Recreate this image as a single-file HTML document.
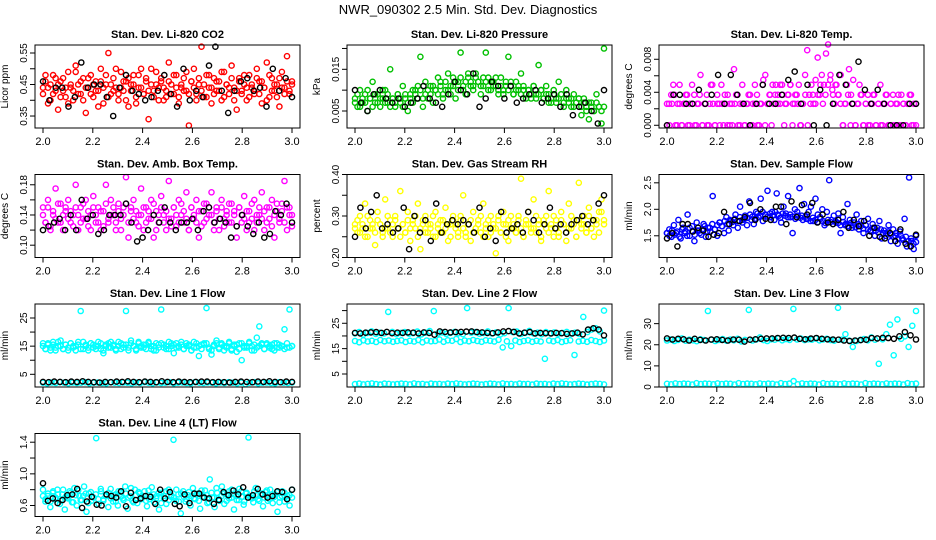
<!DOCTYPE html>
<html><head><meta charset="utf-8">
<style>
html,body{margin:0;padding:0;background:#fff;}
svg{display:block;font-family:"Liberation Sans",Arial,sans-serif;}
</style></head>
<body>
<svg id="chart" width="936" height="540" viewBox="0 0 936 540">
<text x="468" y="14" text-anchor="middle" font-size="13">NWR_090302  2.5 Min. Std. Dev. Diagnostics</text>
</svg>
<script>
const xTicks=[2.0,2.2,2.4,2.6,2.8,3.0];
const co2Red=[0.44,0.48,0.39,0.45,0.42,0.47,0.37,0.46,0.43,0.41,0.49,0.44,0.40,0.51,0.45,0.42,0.47,0.36,0.44,0.48,0.41,0.46,0.43,0.50,0.39,0.45,0.55,0.42,0.47,0.44,0.40,0.49,0.43,0.46,0.38,0.45,0.48,0.41,0.44,0.50,0.42,0.47,0.34,0.45,0.43,0.49,0.40,0.46,0.44,0.41,0.52,0.45,0.42,0.48,0.39,0.44,0.47,0.43,0.32,0.46,0.50,0.42,0.45,0.57,0.41,0.48,0.44,0.39,0.47,0.43,0.46,0.40,0.49,0.45,0.42,0.51,0.44,0.37,0.47,0.43,0.45,0.40,0.48,0.44,0.42,0.50,0.46,0.39,0.44,0.52,0.41,0.47,0.43,0.45,0.38,0.49,0.44,0.54,0.42,0.46];
const co2RedB=[0.42,0.46,0.44,0.40,0.48,0.43,0.45,0.41,0.47,0.44,0.39,0.45,0.43,0.49,0.42,0.46,0.40,0.44,0.47,0.42,0.45,0.43,0.38,0.46,0.44,0.48,0.41,0.45,0.43,0.50,0.42,0.44,0.46,0.40,0.47,0.43,0.45,0.39,0.48,0.44,0.42,0.46,0.43,0.50,0.41,0.45,0.44,0.47,0.40,0.43,0.46,0.42,0.48,0.44,0.41,0.45,0.43,0.49,0.42,0.46,0.44,0.40,0.47,0.43,0.45,0.41,0.48,0.44,0.42,0.46,0.43,0.49,0.41,0.45,0.44,0.47,0.40,0.43,0.46,0.42,0.48,0.44,0.41,0.45,0.43,0.47,0.42,0.46,0.44,0.40,0.48,0.43,0.45,0.41,0.47,0.44,0.42,0.46,0.43,0.45];
const co2Black=[0.46,0.40,0.44,0.44,0.38,0.41,0.52,0.44,0.45,0.45,0.41,0.35,0.44,0.48,0.43,0.42,0.40,0.41,0.43,0.48,0.42,0.38,0.50,0.40,0.43,0.41,0.51,0.57,0.43,0.36,0.43,0.46,0.47,0.43,0.44,0.38,0.50,0.43,0.47,0.41];
const pressGreen=[0.008,0.006,0.010,0.007,0.009,0.005,0.008,0.012,0.007,0.009,0.006,0.008,0.010,0.007,0.015,0.008,0.006,0.009,0.007,0.011,0.008,0.005,0.009,0.007,0.010,0.008,0.018,0.006,0.009,0.008,0.011,0.007,0.010,0.009,0.012,0.008,0.010,0.014,0.009,0.011,0.008,0.012,0.019,0.010,0.009,0.013,0.011,0.010,0.014,0.012,0.009,0.011,0.019,0.013,0.010,0.012,0.011,0.009,0.013,0.010,0.012,0.018,0.011,0.009,0.012,0.010,0.014,0.011,0.009,0.010,0.008,0.011,0.009,0.016,0.010,0.008,0.011,0.009,0.007,0.010,0.008,0.012,0.009,0.007,0.010,0.008,0.006,0.009,0.007,0.008,0.004,0.008,0.006,0.003,0.007,0.005,0.009,0.006,0.002,0.020];
const pressGreenB=[0.007,0.009,0.006,0.008,0.007,0.010,0.008,0.006,0.009,0.007,0.008,0.010,0.007,0.009,0.006,0.008,0.007,0.009,0.008,0.006,0.009,0.007,0.008,0.010,0.009,0.011,0.010,0.008,0.012,0.010,0.009,0.011,0.010,0.013,0.011,0.009,0.012,0.010,0.011,0.013,0.012,0.010,0.013,0.011,0.012,0.014,0.012,0.011,0.013,0.012,0.011,0.013,0.012,0.010,0.012,0.011,0.013,0.010,0.011,0.009,0.011,0.010,0.012,0.009,0.010,0.011,0.009,0.010,0.008,0.010,0.009,0.011,0.008,0.009,0.010,0.008,0.009,0.007,0.008,0.009,0.007,0.008,0.009,0.006,0.008,0.007,0.008,0.006,0.007,0.008,0.006,0.007,0.005,0.007,0.006,0.005,0.007,0.006,0.005,0.006];
const pressBlack=[0.010,0.007,0.005,0.009,0.010,0.008,0.007,0.008,0.006,0.007,0.008,0.011,0.008,0.007,0.006,0.009,0.012,0.010,0.009,0.014,0.006,0.008,0.012,0.011,0.008,0.011,0.007,0.008,0.009,0.010,0.007,0.008,0.009,0.006,0.009,0.004,0.006,0.007,0.005,0.002,0.010];
const tempMag=[0,0.0026,0.0037,0.0049,0,0.0026,0.0049,0,0.0026,0.0037,0,0.0026,0.0049,0.0037,0,0.0026,0.0061,0,0.0026,0.0037,0,0.0049,0.0026,0,0.0037,0.0026,0.0049,0,0.0026,0.0037,0,0.0026,0.0068,0.0037,0,0.0026,0.0049,0,0.0026,0.0037,0,0.0026,0.0049,0.0037,0,0.0026,0.0055,0.0061,0.0026,0.0037,0,0.0026,0.0049,0.0037,0.0026,0.0049,0,0.0026,0.0037,0.0049,0,0.0026,0.0037,0.0049,0,0.0026,0.0061,0.0091,0.0037,0.0049,0.0026,0.0055,0.0082,0.0037,0.0061,0.0049,0.0087,0.0098,0.0055,0.0043,0.0026,0.0049,0.0037,0.0061,0,0.0026,0.0049,0.0068,0.0037,0.0055,0,0.0026,0.0049,0.0037,0,0.0026,0.0037,0,0.0026,0.0037,0,0.0026,0.0049,0,0.0026,0.0037,0,0.0026,0.0037,0,0.0026,0,0.0037,0.0026,0,0.0026,0.0037,0,0.0026,0];
const tempMagB=[0.0026,0,0.0026,0.0037,0,0.0026,0,0.0026,0.0037,0,0.0026,0,0.0026,0.0037,0,0.0026,0,0.0026,0.0049,0,0.0026,0,0.0026,0.0037,0,0.0026,0,0.0026,0.0037,0,0.0026,0,0.0026,0.0037,0,0.0026,0,0.0026,0.0049,0,0.0026,0.0037,0.0049,0.0037,0.0026,0.0049,0.0037,0.0026,0.0037,0.0049,0.0026,0.0037,0.0026,0,0.0026,0.0037,0,0.0026,0.0037,0.0026,0.0037,0.0049,0.0026,0.0037,0.0049,0.0061,0.0037,0.0049,0.0037,0.0026,0,0.0026,0.0037,0,0.0026,0,0.0026,0.0037,0,0.0026,0,0.0026,0.0037,0,0.0026,0,0.0026,0.0037,0,0.0026,0,0.0026,0.0037,0,0.0026,0,0.0026,0.0037,0,0.0026];
const tempBlack=[0,0.0037,0.0037,0.0026,0.0026,0.0043,0.0026,0.0037,0.0061,0.0026,0.0061,0.0037,0.0026,0,0.0026,0.0049,0.0026,0.0026,0.0037,0.0055,0.0065,0.0026,0.0049,0,0.0043,0,0.0026,0.0061,0.0049,0.0026,0.0077,0.0043,0.0026,0.0043,0.0026,0,0,0,0.0026,0.0026];
const ambMag=[0.15,0.13,0.16,0.12,0.14,0.175,0.13,0.155,0.12,0.145,0.16,0.13,0.14,0.18,0.12,0.15,0.135,0.16,0.125,0.14,0.165,0.13,0.15,0.12,0.145,0.18,0.13,0.16,0.14,0.12,0.155,0.135,0.15,0.19,0.11,0.145,0.16,0.13,0.14,0.175,0.12,0.15,0.135,0.16,0.11,0.145,0.13,0.165,0.14,0.12,0.185,0.135,0.15,0.125,0.16,0.14,0.13,0.17,0.12,0.15,0.135,0.16,0.11,0.145,0.13,0.155,0.14,0.17,0.12,0.15,0.135,0.16,0.125,0.145,0.13,0.155,0.14,0.11,0.15,0.13,0.165,0.12,0.145,0.135,0.16,0.13,0.14,0.17,0.12,0.15,0.135,0.16,0.11,0.145,0.13,0.155,0.185,0.12,0.15,0.14];
const ambMagB=[0.14,0.13,0.15,0.125,0.145,0.135,0.155,0.13,0.14,0.15,0.135,0.145,0.125,0.15,0.14,0.13,0.155,0.135,0.145,0.12,0.15,0.14,0.13,0.145,0.125,0.155,0.135,0.14,0.15,0.13,0.145,0.12,0.14,0.155,0.13,0.15,0.135,0.145,0.125,0.14,0.15,0.13,0.145,0.135,0.155,0.12,0.14,0.15,0.13,0.145,0.135,0.125,0.15,0.14,0.13,0.155,0.145,0.135,0.12,0.15,0.14,0.13,0.145,0.125,0.155,0.135,0.15,0.14,0.13,0.145,0.12,0.15,0.135,0.14,0.155,0.13,0.145,0.125,0.15,0.14,0.135,0.145,0.13,0.155,0.12,0.14,0.15,0.135,0.145,0.13,0.15,0.125,0.14,0.155,0.135,0.145,0.13,0.15,0.14,0.125];
const ambBlack=[0.12,0.125,0.13,0.135,0.12,0.14,0.12,0.16,0.135,0.14,0.115,0.12,0.14,0.14,0.14,0.155,0.13,0.105,0.11,0.12,0.14,0.13,0.15,0.13,0.12,0.13,0.13,0.135,0.12,0.145,0.15,0.13,0.135,0.13,0.11,0.125,0.14,0.125,0.115,0.13,0.11,0.115,0.145,0.14,0.155,0.13];
const rhYellow=[0.28,0.26,0.30,0.27,0.33,0.25,0.29,0.27,0.23,0.31,0.28,0.26,0.34,0.27,0.29,0.25,0.30,0.27,0.36,0.28,0.26,0.31,0.24,0.29,0.27,0.33,0.22,0.28,0.30,0.26,0.28,0.25,0.31,0.27,0.29,0.26,0.32,0.24,0.28,0.30,0.27,0.25,0.29,0.35,0.26,0.28,0.24,0.31,0.27,0.29,0.26,0.33,0.28,0.25,0.30,0.27,0.21,0.29,0.26,0.31,0.28,0.24,0.30,0.27,0.26,0.29,0.39,0.25,0.28,0.31,0.27,0.34,0.26,0.29,0.24,0.28,0.30,0.36,0.27,0.25,0.29,0.26,0.31,0.28,0.24,0.33,0.27,0.29,0.25,0.38,0.28,0.30,0.26,0.32,0.27,0.25,0.29,0.31,0.34,0.28];
const rhYellowB=[0.27,0.29,0.26,0.28,0.25,0.30,0.27,0.28,0.26,0.29,0.28,0.25,0.27,0.30,0.26,0.28,0.29,0.27,0.25,0.28,0.26,0.29,0.27,0.28,0.30,0.25,0.27,0.29,0.26,0.28,0.27,0.30,0.25,0.28,0.26,0.29,0.27,0.28,0.25,0.29,0.28,0.26,0.30,0.27,0.25,0.28,0.29,0.26,0.27,0.28,0.30,0.25,0.27,0.29,0.26,0.28,0.27,0.30,0.26,0.28,0.25,0.29,0.27,0.28,0.26,0.30,0.27,0.25,0.29,0.28,0.26,0.27,0.30,0.28,0.25,0.29,0.27,0.26,0.28,0.30,0.27,0.25,0.29,0.28,0.26,0.27,0.30,0.28,0.25,0.29,0.27,0.28,0.26,0.30,0.27,0.29,0.28,0.26,0.31,0.29];
const rhBlack=[0.25,0.32,0.27,0.31,0.35,0.27,0.28,0.26,0.27,0.32,0.22,0.30,0.26,0.29,0.24,0.33,0.26,0.28,0.29,0.28,0.29,0.28,0.26,0.32,0.25,0.27,0.24,0.31,0.26,0.27,0.28,0.26,0.31,0.29,0.26,0.28,0.32,0.27,0.28,0.26,0.28,0.29,0.30,0.28,0.29,0.33,0.35];
const sampleBlue=[1.55,1.62,1.48,1.70,1.55,1.80,1.45,1.65,1.58,1.90,1.50,1.68,1.40,1.75,1.60,1.52,1.72,1.48,1.65,1.58,2.25,1.62,1.50,1.75,1.68,1.55,1.85,1.60,1.78,1.70,1.90,1.65,2.05,1.75,1.82,1.70,2.15,1.80,1.72,1.95,1.85,2.20,1.78,1.90,2.35,1.85,1.95,1.80,2.30,1.88,1.75,2.05,1.92,2.25,1.85,1.55,2.00,1.95,2.40,1.88,2.10,1.82,1.95,2.05,1.78,2.20,1.90,1.85,2.00,1.70,1.95,2.55,1.80,1.88,1.75,1.92,1.55,1.85,1.70,2.10,1.80,1.65,1.75,1.90,1.62,1.78,1.55,1.70,1.82,1.60,1.72,1.50,1.65,1.78,1.45,1.60,1.55,1.70,1.40,1.62,1.50,1.35,1.58,1.45,1.82,1.30,2.60,1.40,1.25,1.50];
const sampleBlueB=[1.55,1.50,1.60,1.52,1.58,1.48,1.62,1.55,1.50,1.65,1.58,1.52,1.60,1.55,1.62,1.68,1.58,1.65,1.72,1.62,1.70,1.75,1.68,1.78,1.72,1.80,1.76,1.82,1.78,1.85,1.80,1.88,1.84,1.90,1.86,1.82,1.92,1.88,1.95,1.90,1.86,1.92,1.88,1.95,1.90,1.84,1.92,1.88,1.85,1.90,1.86,1.82,1.88,1.84,1.80,1.86,1.82,1.78,1.84,1.80,1.76,1.82,1.78,1.74,1.80,1.76,1.72,1.78,1.74,1.70,1.76,1.72,1.68,1.74,1.70,1.66,1.72,1.68,1.64,1.70,1.62,1.58,1.65,1.60,1.56,1.62,1.55,1.50,1.58,1.52,1.48,1.55,1.45,1.50,1.42,1.48,1.40,1.45,1.35,1.38];
const sampleBlack=[1.45,1.55,1.30,1.72,1.72,1.58,1.65,1.60,1.48,1.52,1.55,1.95,1.72,1.80,1.78,1.85,2.12,1.80,2.00,1.82,1.80,2.05,2.05,1.72,2.15,1.85,2.08,1.90,2.12,1.75,1.90,1.75,1.72,1.80,1.95,1.65,1.80,1.68,1.78,1.50,1.65,1.48,1.45,1.55,1.40,1.62,1.35,1.30,1.52];
const line1CyanHi=[16,14,15.5,13.5,16.5,14.5,15,17,14,15.5,13.5,16,14.5,15,16.5,27.5,14,15.5,13.5,16,14.5,15,16.5,14,12.5,15.5,16,14.5,15,13.5,16.5,14,15.5,27.5,14.5,17,15,13.5,16,14.5,15.5,14,16.5,15,13.5,16,14.5,28,15.5,14,16.5,15,12.5,16,14.5,15.5,14,16,15,13.5,16.5,14.5,11.5,15.5,16,28.5,14,12,15.5,17,14.5,16,13.5,15,16.5,14,15.5,13,16,10,15,14.5,16.5,15,13.5,18,22,15.5,14,16,14.5,15.5,13.5,16,14.5,15,21,14.5,28,15];
const line1CyanHiB=[15,14,16,14.5,15.5,13.5,16.5,15,14,15.5,14.5,16,15,13.5,15.5,14,16.5,15,14.5,16,15.5,14,15,16,13.5,15,14.5,16.5,15.5,14,15,16,14.5,15.5,13.5,16,15,14,16.5,15,14.5,15.5,16,14,15,13.5,15.5,16,14.5,15,14,16,15.5,14.5,15,16.5,14,15,15.5,13.5,14.5,16,15,14,15.5,16,14.5,13.5,15,16,14,15.5,15,14.5,16,13.5,15,15.5,14,16,14.5,15,16,13.5,15.5,14.5,15,16,14,15.5,15,14,16,14.5,15.5,15,14,16,14.5,15];
const line1CyanLo=[2,1.8,2.1,1.9,2.2,2,1.8,2.1,1.9,2,2.2,1.8,2,2.1,1.9,1.8,2.2,2,1.9,2.1,2,1.8,2.1,1.9,2.2,2,1.8,2.1,1.9,2,2.2,1.8,2,2.1,1.9,1.8,2.2,2,1.9,2.1,2,1.8,2.1,1.9,2.2,2,1.8,2.1,1.5,2,2.2,1.8,2,2.1,1.9,1.8,2.2,2,1.9,2.1];
const line1Black=[2.3,2.2,2.4,2.3,2.2,2.4,2.3,2.5,2.3,2.2,2.1,2.3,2.2,2.4,2.3,2.5,2.3,2.2,2.4,2.3,2.2,2.5,2.3,2.2,2.4,2.3,2.2,2.3,2.4,2.4,2.2,2.3,2.2,2.1,2.3,2.4,2.3,2.2,2.4,2.3,2.5,2.3,2.2,2.4,2.3];
const line2CyanHi=[21,21.5,20.5,21.2,21.8,20.8,21.3,21,29.5,21.6,20.7,21.2,21.5,20.9,21.1,21.7,20.6,21.3,21.9,29.8,21,21.4,20.8,21.2,21.6,21.1,20.7,31,21.3,21.5,20.9,21.2,21.8,21,21.4,20.6,21.1,31,21.5,21.7,20.8,21.2,22,21,21.3,20.7,21.5,21.1,21.4,20.9,21.2,21.6,21,21.3,20.8,27.5,21.5,22.5,23,21.8,30];
const line2CyanMid=[18,17.5,18.3,17.8,18.1,17.6,18.4,17.9,18.2,17.7,18,18.3,17.6,18.1,17.8,18.4,17.5,18.2,17.9,18,18.6,17.7,18.3,18.1,18.8,17.6,18.2,17.9,18.4,18,17.7,18.3,18.1,17.8,18.5,15.5,17.9,16,18.2,17.6,18,18.3,17.7,18.1,17.8,11,18.2,17.9,18.4,17.6,18,18.3,12.5,17.8,18.1,17.7,18.4,18,17.6,18.2];
const line2CyanLo=[1,1.2,0.9,1.1,1.3,1,0.8,1.2,1.1,0.9,1,1.2,1.1,0.9,1.3,1,1.1,0.8,1.2,1,1.1,0.9,1.2,1,1.3,1.1,0.9,1,1.2,1.1,0.8,1,1.2,1.1,0.9,1.3,1,1.1,0.9,1.2,1,1.1,0.8,1.2,1,1.1,0.9,1.2,1,1.3,1.1,0.9,1,1.2,1.1,0.8,1,1.2,1.1,0.9];
const line2Black=[21.2,21,21.3,21.4,21.5,21.2,21.6,21.1,21.3,21.2,21.4,21.3,21,21.4,21.2,20.5,21.8,21.6,21.4,21.5,21.6,21.7,21.8,21.5,21.4,21.2,21.1,21.4,21.8,21.9,21.6,21,21.3,21.5,21,21.2,21.1,21,21.2,21.1,20.8,21,21.3,20.6,22.5,23,22.5,20.2];
const line3CyanHi=[22,22.5,21.8,22.3,23,21.9,22.4,22.1,21.7,22.6,22.2,36,22.4,21.8,22.3,22.7,21.9,22.5,22.1,22.8,21.6,22.3,36.5,22,22.5,23.5,22.2,21.8,22.6,22.4,23,22.1,22.7,22.3,37,22.5,22.9,22.2,22.6,22.4,23,22.1,22.5,22.8,22.2,21.9,37.5,22.4,25,22,19,21.8,22.3,22.7,22.1,23.5,22.4,11,22.6,25,29.5,15,32,22.8,24,19,29,36];
const line3CyanLo=[1.5,1.3,1.7,1.4,1.6,1.5,1.2,1.8,1.4,1.6,1.5,1.3,1.7,1.4,1.6,1.5,1.2,1.8,1.4,1.6,1.5,1.3,1.7,1.4,1.6,1.5,1.2,1.8,1.4,1.6,2.8,1.3,1.7,1.4,1.6,1.5,1.2,1.8,1.4,1.6,1.5,1.3,1.7,1.4,1.6,1.5,1.2,1.8,1.4,1.6,1.5,1.3,1.7,1.4,1.6,1.5,1.2,1.8,1.4,1.6];
const line3Black=[23,22.5,22.8,22.6,22,22.8,22.3,22,22.5,22.6,22.3,22,22.5,22.4,21.5,22.4,22.6,22.8,23,23,23.2,23.3,23.2,23.4,22.8,22.6,22.9,23.2,22.8,22.6,22.5,22.4,22,21.8,22,22.2,22.4,23.2,23,23.3,23.2,22.8,24,26,24.5,22.5];
const line4Cyan=[0.8,0.65,0.72,0.58,0.76,0.68,0.8,0.62,0.74,0.55,0.7,0.78,0.64,0.82,0.6,0.72,0.67,0.84,0.52,0.75,0.66,0.7,1.45,0.62,0.78,0.68,0.73,0.58,0.81,0.65,0.74,0.6,0.77,0.69,0.84,0.56,0.72,0.66,0.8,0.63,0.75,0.7,0.78,0.59,0.68,0.83,0.64,0.72,0.55,0.76,0.69,0.62,0.8,0.71,1.43,0.66,0.74,0.5,0.78,0.65,0.73,0.6,0.82,0.68,0.75,0.56,0.71,0.79,0.63,0.93,0.7,0.58,0.76,0.66,0.84,0.62,0.74,0.69,0.8,0.55,0.72,0.67,0.78,0.61,0.75,1.46,0.7,0.64,0.82,0.68,0.73,0.59,0.77,0.66,0.8,0.63,0.74,0.52,0.7,0.78,0.65,0.72,0.6,0.8];
const line4CyanB=[0.72,0.68,0.75,0.65,0.78,0.70,0.74,0.66,0.80,0.71,0.69,0.76,0.64,0.73,0.79,0.67,0.72,0.75,0.63,0.77,0.70,0.74,0.68,0.81,0.66,0.72,0.76,0.69,0.73,0.65,0.78,0.71,0.67,0.75,0.70,0.82,0.64,0.73,0.77,0.68,0.72,0.66,0.79,0.71,0.74,0.69,0.76,0.63,0.72,0.78,0.67,0.73,0.70,0.80,0.65,0.75,0.71,0.68,0.77,0.72,0.69,0.74,0.66,0.79,0.71,0.73,0.64,0.76,0.70,0.82,0.68,0.72,0.75,0.66,0.78,0.70,0.74,0.67,0.81,0.71,0.65,0.76,0.72,0.69,0.78,0.73,0.66,0.75,0.70,0.79,0.68,0.74,0.71,0.77,0.64,0.72,0.76,0.69,0.73,0.70];
const line4Black=[0.88,0.66,0.69,0.63,0.67,0.73,0.74,0.81,0.57,0.65,0.71,0.61,0.6,0.74,0.72,0.7,0.78,0.59,0.76,0.67,0.69,0.72,0.71,0.62,0.8,0.69,0.77,0.62,0.59,0.74,0.63,0.75,0.75,0.7,0.69,0.62,0.67,0.77,0.73,0.79,0.74,0.83,0.7,0.73,0.81,0.74,0.7,0.72,0.78,0.77,0.68,0.8];

const svg=document.getElementById('chart');
const NS='http://www.w3.org/2000/svg';
function mk(tag,attrs,parent){const e=document.createElementNS(NS,tag);for(const k in attrs)e.setAttribute(k,attrs[k]);(parent||svg).appendChild(e);return e;}

const panels=[
 {key:'co2',title:'Stan. Dev. Li-820 CO2',ylab:'Licor ppm',col:0,row:0,ymin:0.312,ymax:0.5754,ticks:[0.35,0.40,0.45,0.50,0.55],labels:{'0.35':'0.35','0.45':'0.45','0.55':'0.55'},series:[[co2Red,'#ff0000'],[co2RedB,'#ff0000'],[co2Black,'#000']]},
 {key:'pressure',title:'Stan. Dev. Li-820 Pressure',ylab:'kPa',col:1,row:0,ymin:0.00092,ymax:0.02083,ticks:[0.005,0.010,0.015,0.020],labels:{'0.005':'0.005','0.015':'0.015'},series:[[pressGreen,'#00c000'],[pressGreenB,'#00c000'],[pressBlack,'#000']]},
 {key:'temp',title:'Stan. Dev. Li-820 Temp.',ylab:'degrees C',col:2,row:0,ymin:-0.00033,ymax:0.00973,ticks:[0,0.002,0.004,0.006,0.008],labels:{'0':'0.000','0.004':'0.004','0.008':'0.008'},series:[[tempMag,'#ff00ff'],[tempMagB,'#ff00ff'],[tempBlack,'#000']]},
 {key:'ambbox',title:'Stan. Dev. Amb. Box Temp.',ylab:'degrees C',col:0,row:1,ymin:0.0837,ymax:0.1936,ticks:[0.10,0.12,0.14,0.16,0.18],labels:{'0.1':'0.10','0.14':'0.14','0.18':'0.18'},series:[[ambMag,'#ff00ff'],[ambMagB,'#ff00ff'],[ambBlack,'#000']]},
 {key:'rh',title:'Stan. Dev. Gas Stream RH',ylab:'percent',col:1,row:1,ymin:0.2,ymax:0.4,ticks:[0.20,0.25,0.30,0.35,0.40],labels:{'0.2':'0.20','0.3':'0.30','0.4':'0.40'},series:[[rhYellow,'#ffff00'],[rhYellowB,'#ffff00'],[rhBlack,'#000']]},
 {key:'sampleflow',title:'Stan. Dev. Sample Flow',ylab:'ml/min',col:2,row:1,ymin:1.09,ymax:2.657,ticks:[1.5,2.0,2.5],labels:{'1.5':'1.5','2':'2.0','2.5':'2.5'},series:[[sampleBlue,'#0000ff'],[sampleBlueB,'#0000ff'],[sampleBlack,'#000']]},
 {key:'line1',title:'Stan. Dev. Line 1 Flow',ylab:'ml/min',col:0,row:2,ymin:0.49,ymax:29.97,ticks:[5,10,15,20,25],labels:{'5':'5','15':'15','25':'25'},series:[[line1CyanHi,'#00ffff'],[line1CyanHiB,'#00ffff'],[line1CyanLo,'#00ffff'],[line1Black,'#000']]},
 {key:'line2',title:'Stan. Dev. Line 2 Flow',ylab:'ml/min',col:1,row:2,ymin:-0.13,ymax:32.6,ticks:[5,10,15,20,25,30],labels:{'5':'5','15':'15','25':'25'},series:[[line2CyanHi,'#00ffff'],[line2CyanMid,'#00ffff'],[line2CyanLo,'#00ffff'],[line2Black,'#000']]},
 {key:'line3',title:'Stan. Dev. Line 3 Flow',ylab:'ml/min',col:2,row:2,ymin:0,ymax:39.3,ticks:[0,10,20,30],labels:{'0':'0','10':'10','20':'20','30':'30'},series:[[line3CyanHi,'#00ffff'],[line3CyanLo,'#00ffff'],[line3Black,'#000']]},
 {key:'line4',title:'Stan. Dev. Line 4 (LT) Flow',ylab:'ml/min',col:0,row:3,ymin:0.461,ymax:1.51,ticks:[0.6,0.8,1.0,1.2,1.4],labels:{'0.6':'0.6','1':'1.0','1.4':'1.4'},series:[[line4Cyan,'#00ffff'],[line4CyanB,'#00ffff'],[line4Black,'#000']]}
];
const colX=[35,347,659], rowY=[45,174.5,304,433.5], BW=265, BH=83;

panels.forEach(p=>{
  const L=colX[p.col], T=rowY[p.row];
  const g=mk('g',{});
  
  
  const xs=v=>L+8+(v-2)*(BW-16)/1.0;
  const ys=v=>T+BH-(v-p.ymin)/(p.ymax-p.ymin)*BH;
  p.series.forEach((s,si)=>{
    const arr=s[0], n=arr.length;
    const sg=mk('g',{fill:'none',stroke:s[1],'stroke-width':1.4},g);
    
    
    arr.forEach((v,i)=>{
      const c=mk('circle',{cx:xs(2+i/(n-1)).toFixed(1),cy:ys(v).toFixed(1),r:2.6},sg);
      
      
    });
  });
  const box=mk('rect',{x:L,y:T,width:BW,height:BH,fill:'none',stroke:'#000','stroke-width':1},g);
  
  
  const t=mk('text',{x:L+BW/2,y:T-7,'text-anchor':'middle','font-size':11,'font-weight':'bold'},g);
  t.textContent=p.title;
  
  
  const yl=mk('text',{x:0,y:0,'text-anchor':'middle','font-size':10,transform:`translate(${L-27},${T+BH/2}) rotate(-90)`},g);
  yl.textContent=p.ylab;
  
  
  const xa=mk('g',{},g);
  
  
  xTicks.forEach(v=>{
    const x=xs(v);
    mk('line',{x1:x,x2:x,y1:T+BH,y2:T+BH+5,stroke:'#000'},xa);
    const lt=mk('text',{x:x,y:T+BH+17,'text-anchor':'middle','font-size':11},xa);
    lt.textContent=v.toFixed(1);
  });
  const ya=mk('g',{},g);
  
  
  p.ticks.forEach(v=>{
    const y=ys(v);
    mk('line',{x1:L-5,x2:L,y1:y,y2:y,stroke:'#000'},ya);
    const key=String(+v.toFixed(6));
    if(p.labels[key]!==undefined){
      const lt=mk('text',{x:0,y:0,'text-anchor':'middle','font-size':10,transform:`translate(${L-8},${y}) rotate(-90)`},ya);
      lt.textContent=p.labels[key];
    }
  });
});
</script>
</body></html>
